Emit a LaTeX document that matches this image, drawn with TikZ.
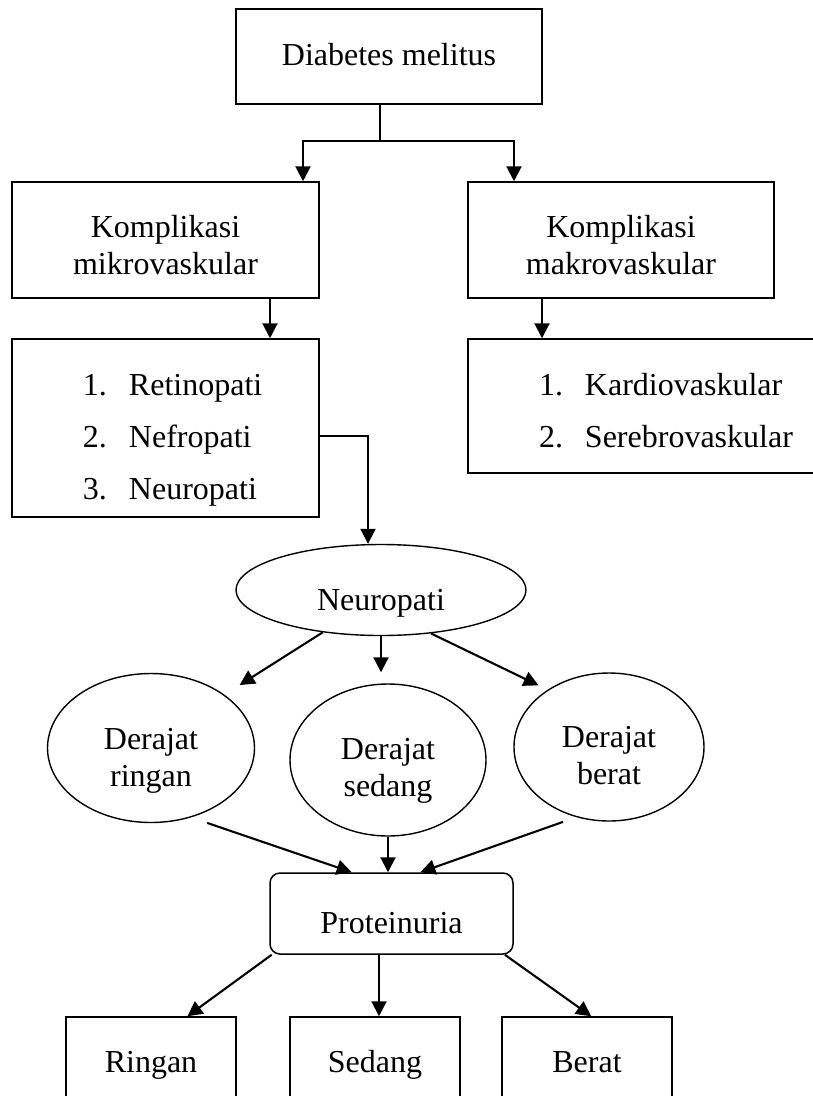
\documentclass[tikz,border=0pt]{standalone}
\usepackage{fontspec}
\setmainfont{Liberation Serif}
\usetikzlibrary{shapes.geometric,arrows.meta}
\newcommand{\boxtext}[2]{\raisebox{#1}[0pt][0pt]{\begin{tabular}[t]{@{}c@{}}#2\end{tabular}}}
\newcommand{\listtext}[3]{\raisebox{#1}[0pt][0pt]{\makebox[#2][l]{\hspace{71pt}\begin{tabular}[t]{@{}l@{}}#3\end{tabular}}}}
\newcommand{\nr}[1]{\makebox[46pt][l]{#1}}

\begin{document}
\begin{tikzpicture}[x=1pt,y=-1pt,line width=2.1pt,>={Triangle[length=15pt,width=15pt]},font=\fontsize{32}{37}\selectfont,box node/.style={rectangle,draw,line width=1.5pt,inner sep=0pt},oval node/.style={ellipse,draw,line width=1.4pt,inner sep=0pt}]
				
				\useasboundingbox (0,0) rectangle (812,1096);
				
				\node[box node,minimum width=306pt,minimum height=95pt] (dm) at (389,56.5) {\boxtext{-8.5pt}{Diabetes melitus}};
				\node[box node,minimum width=307pt,minimum height=116pt] (mikro) at (165.5,240) {\boxtext{3pt}{Komplikasi\\ mikrovaskular}};
				\node[box node,minimum width=306pt,minimum height=116pt] (makro) at (621,240) {\boxtext{3pt}{Komplikasi\\ makrovaskular}};
				\node[box node,minimum height=178pt] (listmikro) at (165.5,428) {\listtext{33pt}{307pt}{\nr{1.}Retinopati\\[15pt] \nr{2.}Nefropati\\[15pt] \nr{3.}Neuropati}};
				\node[box node,minimum height=134pt] (listmakro) at (649,406) {\listtext{11pt}{362pt}{\nr{1.}Kardiovaskular\\[15pt] \nr{2.}Serebrovaskular}};
				
				\node[oval node,minimum width=290pt,minimum height=91pt] (neuro) at (381,590) {\boxtext{-20pt}{Neuropati}};
				\node[oval node,minimum width=207pt,minimum height=149pt] (ringan) at (151,748) {\boxtext{-1pt}{Derajat\\ ringan}};
				\node[oval node,minimum width=196pt,minimum height=152pt] (sedang) at (388,760) {\boxtext{1pt}{Derajat\\ sedang}};
				\node[oval node,minimum width=190pt,minimum height=148pt] (berat) at (609,747) {\boxtext{0pt}{Derajat\\ berat}};
				
				\node[box node,rounded corners=10pt,minimum width=243pt,minimum height=81pt] (prot) at (391.5,913.5) {\boxtext{-19.5pt}{Proteinuria}};
				\node[box node,minimum width=170pt,minimum height=95pt] (ringanbox) at (151,1064.5) {\boxtext{-7.5pt}{Ringan}};
				\node[box node,minimum width=170pt,minimum height=95pt] (sedangbox) at (375,1064.5) {\boxtext{-7.5pt}{Sedang}};
				\node[box node,minimum width=170pt,minimum height=95pt] (beratbox) at (587,1064.5) {\boxtext{-7.5pt}{Berat}};
				
				\coordinate (split) at (380,141);
				\draw ([xshift=-9pt]dm.south) -- (split);
				\draw[->] (split) -| ([xshift=137.5pt]mikro.north);
				\draw[->] (split) -| ([xshift=-107pt]makro.north);
				
				\draw[->] ([xshift=104.5pt]mikro.south) -- ([xshift=104.5pt]listmikro.north);
				\draw[->] ([xshift=-79pt]makro.south) -- ([xshift=-107pt]listmakro.north);
				\draw[->] ([yshift=-8pt]listmikro.east) -| ([xshift=-13pt]neuro.north);
				
				\draw[->,shorten >=18pt] (neuro.216) -- (ringan.36);
				\draw[->,shorten >=11pt] (neuro.south) -- (neuro.south |- sedang.north);
				\draw[->,shorten >=10pt] (neuro.319) -- (berat.137);
				
				\draw[->,shorten <=17pt] (ringan.300) -- (prot.134);
				\draw[->] (sedang.south) -- (sedang.south |- prot.north);
				\draw[->,shorten <=14pt] (berat.245) -- (prot.55);
				
				\draw[->] (prot.199) -- (ringanbox.53);
				\draw[->] ([xshift=-12.5pt]prot.south) -- ([xshift=4pt]sedangbox.north);
				\draw[->] (prot.340) -- (beratbox.85);
\end{tikzpicture}
\end{document}
